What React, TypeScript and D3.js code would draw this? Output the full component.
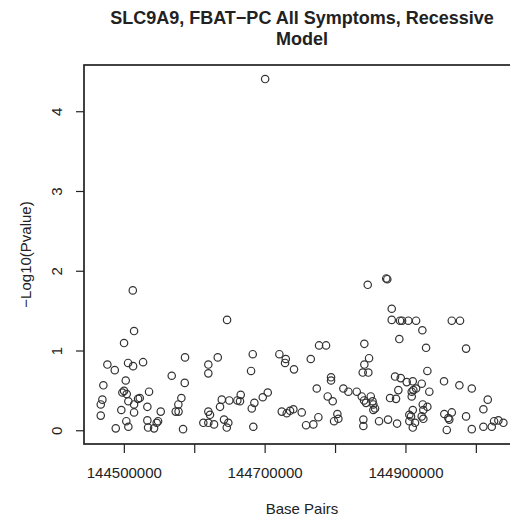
import { useEffect, useRef } from "react"
import * as d3 from "d3"

// positions in base pairs and -log10(p)
const basePairs = [
  144700000, 144512000, 144645900, 144513800, 144845700, 144872000, 144873500, 144879800,
  144879800, 144891600, 144894500, 144903400, 144914400, 144923300, 144965100, 144976800,
  144890600, 144840900, 144499600, 144928600, 144985400, 144776600, 144786500,
  144475900, 144486400, 144505300, 144512400, 144526600, 144586200, 144502000, 144470200,
  144567300, 144585800, 144619300, 144619300, 144632700, 144682400, 144680000, 144720200,
  144729300, 144728300, 144741000, 144764800, 144793600, 144793600, 144847600, 144840900,
  144838600, 144846600, 144930400, 144884500, 144892600, 144901100, 144909700, 144922400,
  144954100, 144975900, 144993500,
  144497200, 144499600, 144503400, 144535100, 144521900, 144519500, 144468800, 144466500,
  144505700, 144513800, 144532700, 144581000, 144576700, 144573000, 144577000, 144495700,
  144513800, 144551700, 144466500, 144502800, 144532700, 144547900, 144546000, 144487800,
  144505700, 144533700, 144542200, 144583400,
  144638400, 144649100, 144660500, 144665300, 144664300, 144635900, 144681000, 144684700,
  144696600, 144703700, 144619300, 144621700, 144612200, 144619300, 144627400, 144641600,
  144647700, 144645500, 144683200, 144723600, 144730700, 144735400, 144740100, 144752000,
  144758100, 144768500, 144775600, 144773300, 144788900, 144796000, 144802600, 144797900,
  144811100, 144818200, 144830100, 144837200, 144840500, 144850000, 144843300, 144852600,
  144853700, 144856100, 144853700, 144877400, 144885900, 144889200, 144908200, 144910500,
  144914400, 144908200, 144909700, 144904800, 144907200, 144923900, 144930400, 144924700,
  144922400, 144924700, 144904800, 144909700, 144912900, 144933200, 144954500, 144965100,
  144960200, 144961600, 144985400, 144958000, 144993500, 145010000, 145021900, 145025200,
  145031300, 145038400, 145016200, 145010000, 144861800, 144874600, 144887400, 144839500,
  144839500, 144804000,
]

const negLog10P = [
  4.41, 1.76, 1.39, 1.25, 1.83, 1.91, 1.9, 1.53,
  1.39, 1.38, 1.38, 1.38, 1.38, 1.26, 1.38, 1.38,
  1.15, 1.09, 1.1, 1.04, 1.03, 1.07, 1.07,
  0.83, 0.76, 0.85, 0.81, 0.86, 0.92, 0.63, 0.57,
  0.69, 0.6, 0.83, 0.72, 0.92, 0.96, 0.75, 0.96,
  0.9, 0.85, 0.77, 0.9, 0.67, 0.63, 0.91, 0.83,
  0.73, 0.73, 0.75, 0.68, 0.66, 0.61, 0.62, 0.59,
  0.62, 0.57, 0.53,
  0.48, 0.5, 0.46, 0.49, 0.41, 0.4, 0.39, 0.33,
  0.37, 0.33, 0.3, 0.41, 0.33, 0.24, 0.24, 0.26,
  0.23, 0.24, 0.19, 0.12, 0.13, 0.12, 0.1, 0.03,
  0.05, 0.04, 0.03, 0.02,
  0.39, 0.38, 0.38, 0.45, 0.37, 0.3, 0.28, 0.35,
  0.42, 0.48, 0.24, 0.2, 0.1, 0.1, 0.08, 0.14,
  0.1, 0.04, 0.05, 0.24, 0.22, 0.25, 0.27, 0.23,
  0.07, 0.08, 0.17, 0.53, 0.43, 0.37, 0.21, 0.12,
  0.53, 0.49, 0.49, 0.43, 0.38, 0.43, 0.35, 0.37,
  0.33, 0.28, 0.26, 0.41, 0.4, 0.51, 0.49, 0.51,
  0.53, 0.43, 0.26, 0.2, 0.18, 0.33, 0.3, 0.26,
  0.18, 0.15, 0.12, 0.04, 0.1, 0.49, 0.21, 0.23,
  0.16, 0.14, 0.18, 0.01, 0.02, 0.05, 0.05, 0.12,
  0.13, 0.1, 0.39, 0.27, 0.12, 0.14, 0.09, 0.14,
  0.06, 0.15,
]

const xTicks = [144500000, 144600000, 144700000, 144800000, 144900000, 145000000]
const xTickLabels = ["144500000", "", "144700000", "", "144900000", ""]
const yTicks = [0, 1, 2, 3, 4]

const titleLines = ["SLC9A9, FBAT\u2212PC All Symptoms, Recessive", "Model"]

export default function App() {
  const svgRef = useRef<SVGSVGElement>(null)

  useEffect(() => {
    if (!svgRef.current) return
    const width = 510
    const height = 516
    const left = 84
    const right = 520
    const top = 65
    const bottom = 444
    const font = "'Liberation Sans', Arial, sans-serif"
    const ink = "#222"

    const svg = d3.select(svgRef.current)
    svg.selectAll("*").remove()
    svg.attr("width", width).attr("height", height)

    svg.append("rect").attr("width", width).attr("height", height).attr("fill", "#fff")

    const x = d3.scaleLinear().domain([144442700, 145062000]).range([left, right])
    const y = d3.scaleLinear().domain([-0.166, 4.586]).range([bottom, top])

    // title
    svg
      .selectAll("text.title")
      .data(titleLines)
      .enter()
      .append("text")
      .attr("class", "title")
      .attr("x", (left + right) / 2)
      .attr("y", (d, i) => 24 + i * 21)
      .attr("text-anchor", "middle")
      .attr("font-family", font)
      .attr("font-weight", "bold")
      .attr("font-size", "18px")
      .attr("fill", ink)
      .text((d) => d)

    // box
    svg
      .append("rect")
      .attr("x", left)
      .attr("y", top)
      .attr("width", right - left)
      .attr("height", bottom - top)
      .attr("fill", "none")
      .attr("stroke", ink)
      .attr("stroke-width", 1.7)

    // x axis
    const gx = svg.append("g")
    gx.selectAll("line")
      .data(xTicks)
      .enter()
      .append("line")
      .attr("x1", (d) => x(d))
      .attr("x2", (d) => x(d))
      .attr("y1", bottom)
      .attr("y2", bottom + 9)
      .attr("stroke", ink)
      .attr("stroke-width", 1.2)
    gx.selectAll("text")
      .data(xTicks)
      .enter()
      .append("text")
      .attr("x", (d) => x(d))
      .attr("y", 478)
      .attr("text-anchor", "middle")
      .attr("font-family", font)
      .attr("font-size", "15px")
      .attr("fill", ink)
      .text((d, i) => xTickLabels[i])

    // y axis
    const gy = svg.append("g")
    gy.selectAll("line")
      .data(yTicks)
      .enter()
      .append("line")
      .attr("x1", left - 8)
      .attr("x2", left)
      .attr("y1", (d) => y(d))
      .attr("y2", (d) => y(d))
      .attr("stroke", ink)
      .attr("stroke-width", 1.2)
    gy.selectAll("text")
      .data(yTicks)
      .enter()
      .append("text")
      .attr("transform", (d) => `translate(62,${y(d)}) rotate(-90)`)
      .attr("text-anchor", "middle")
      .attr("font-family", font)
      .attr("font-size", "15px")
      .attr("fill", ink)
      .text((d) => d)

    svg
      .append("text")
      .attr("x", (left + right) / 2)
      .attr("y", 514)
      .attr("text-anchor", "middle")
      .attr("font-family", font)
      .attr("font-size", "15px")
      .attr("fill", ink)
      .text("Base Pairs")

    svg
      .append("text")
      .attr("transform", `translate(31,${(top + bottom) / 2}) rotate(-90)`)
      .attr("text-anchor", "middle")
      .attr("font-family", font)
      .attr("font-size", "15px")
      .attr("fill", ink)
      .text("\u2212Log10(Pvalue)")

    // points
    svg
      .append("g")
      .selectAll("circle")
      .data(basePairs.map((bp, i) => [bp, negLog10P[i]]))
      .enter()
      .append("circle")
      .attr("cx", (d) => x(d[0]))
      .attr("cy", (d) => y(d[1]))
      .attr("r", 3.7)
      .attr("fill", "none")
      .attr("stroke", "#333")
      .attr("stroke-width", 1.2)
  }, [])

  return (
    <svg
      ref={svgRef}
      style={{ position: "absolute", left: 0, top: 0, display: "block" }}
    />
  )
}
